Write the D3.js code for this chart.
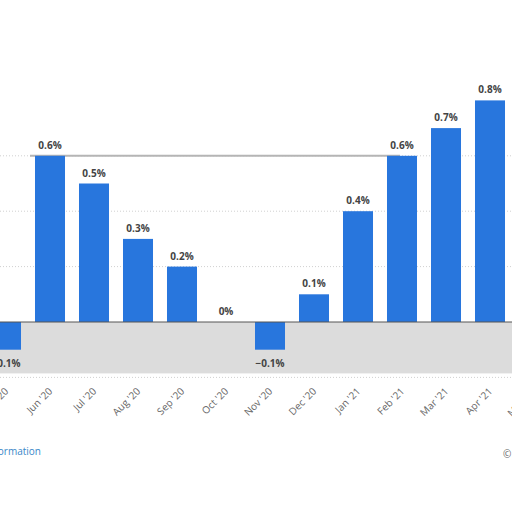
<!DOCTYPE html>
<html>
<head>
<meta charset="utf-8">
<script src="https://cdn.jsdelivr.net/npm/d3@7"></script>
<style>
  body { margin: 0; background: #fff; }
  svg { display: block; font-family: "Open Sans", "DejaVu Sans", sans-serif; }
</style>
</head>
<body>
<svg width="512" height="512"></svg>
<script>
const months = ["May '20", "Jun '20", "Jul '20", "Aug '20", "Sep '20", "Oct '20", "Nov '20",
  "Dec '20", "Jan '21", "Feb '21", "Mar '21", "Apr '21", "May '21"];
// May '21 bar lies outside the picture, so only its axis label is known
const values = [-0.1, 0.6, 0.5, 0.3, 0.2, 0, -0.1, 0.1, 0.4, 0.6, 0.7, 0.8];
const gridTicks = [-0.2, 0.2, 0.4, 0.6];

const svg = d3.select('svg');

// the plot runs past both edges of the window
const x = d3.scaleBand()
  .domain(months)
  .range([-16, 556])
  .paddingInner(0.318)
  .paddingOuter(0.159);

const y = d3.scaleLinear()
  .domain([-0.2, 0.8])
  .range([377.4, 100.4]);

// grey band under the zero line
svg.append('rect')
  .attr('x', 0).attr('y', y(0))
  .attr('width', 512).attr('height', y(-0.2) - y(0) - 4)
  .attr('fill', '#dcdcdc');

svg.append('g')
  .selectAll('line')
  .data(gridTicks)
  .enter().append('line')
  .attr('x1', 0).attr('x2', 512)
  .attr('y1', d => y(d)).attr('y2', d => y(d))
  .attr('stroke', '#d0d0d0')
  .attr('stroke-dasharray', '1,2');

svg.append('line')
  .attr('x1', 30).attr('x2', 400)
  .attr('y1', y(0.6)).attr('y2', y(0.6))
  .attr('stroke', '#b5b5b5')
  .attr('stroke-width', 2);

svg.append('g')
  .selectAll('rect')
  .data(values)
  .enter().append('rect')
  .attr('x', (d, i) => x(months[i]))
  .attr('width', x.bandwidth())
  .attr('y', d => y(Math.max(0, d)))
  .attr('height', d => Math.abs(y(d) - y(0)))
  .attr('fill', '#2876dd');

svg.append('line')
  .attr('x1', 0).attr('x2', 512)
  .attr('y1', y(0)).attr('y2', y(0))
  .attr('stroke', '#555')
  .attr('stroke-width', 1);

svg.append('g')
  .selectAll('text')
  .data(values)
  .enter().append('text')
  .attr('x', (d, i) => x(months[i]) + x.bandwidth() / 2)
  .attr('y', d => d < 0 ? y(d) + 17 : y(d) - 7)
  .attr('text-anchor', 'middle')
  .attr('font-size', 10)
  .attr('font-weight', 'bold')
  .attr('fill', '#444')
  .text(d => (d < 0 ? '\u2212' + Math.abs(d) : d) + '%');

svg.append('g')
  .selectAll('text')
  .data(months)
  .enter().append('text')
  .attr('transform', d => `translate(${x(d) + x.bandwidth() / 2 + 3},392) rotate(-45)`)
  .attr('text-anchor', 'end')
  .attr('font-size', 10)
  .attr('fill', '#666')
  .text(d => d);

svg.append('text')
  .attr('x', 41).attr('y', 455)
  .attr('text-anchor', 'end')
  .attr('font-size', 10)
  .attr('fill', '#3a87c8')
  .text('Additional Information');

svg.append('text')
  .attr('x', 503).attr('y', 458)
  .attr('font-size', 10)
  .attr('fill', '#666')
  .text('\u00a9 Statista 2021');
</script>
</body>
</html>
